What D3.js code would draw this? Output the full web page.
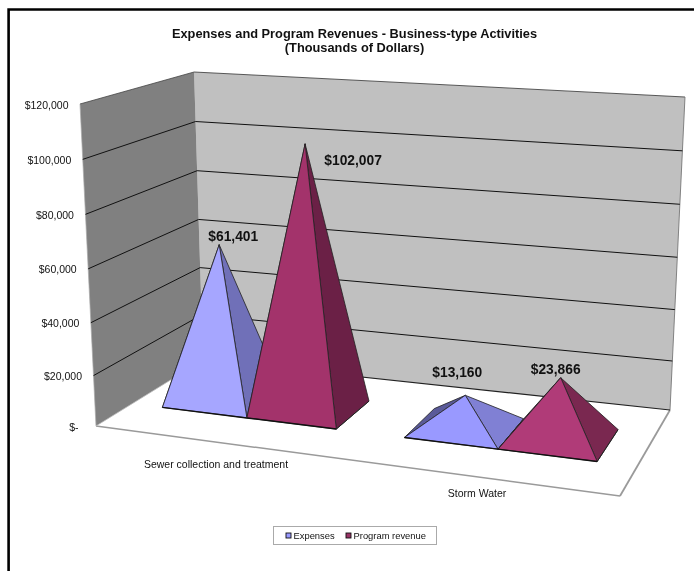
<!DOCTYPE html>
<html><head><meta charset="utf-8">
<script src="https://cdn.jsdelivr.net/npm/d3@7"></script>
<style>
html,body{margin:0;padding:0;background:#fff}
svg{display:block;filter:blur(0.35px)}
text{font-family:"Liberation Sans",Arial,sans-serif;fill:#111}
</style></head><body>
<svg id="c" width="694" height="571"></svg>
<script>
const categories = ["Sewer collection and treatment", "Storm Water"];
const seriesNames = ["Expenses", "Program revenue"];
const expenses = [61401, 13160];
const programRevenue = [102007, 23866];
const tickValues = [0, 20000, 40000, 60000, 80000, 100000, 120000];
const tickLabels = ["$-", "$20,000", "$40,000", "$60,000", "$80,000", "$100,000", "$120,000"];
const dataLabels = [["$61,401", "$13,160"], ["$102,007", "$23,866"]];

// projection of the chart box: floor corners (front-left, front-right, back-right, back-left),
// the vanishing point of the verticals, and the on-screen wall height at those corners
const floorQuad = [[96,426],[620,496],[670,410],[203,360]];
const verticalVanish = [388,6300];
const cornerHeights = [322,350,313,288];

function homography(q){
  const [p0,p1,p2,p3]=q;
  const sx=p0[0]-p1[0]+p2[0]-p3[0], sy=p0[1]-p1[1]+p2[1]-p3[1];
  const dx1=p1[0]-p2[0], dx2=p3[0]-p2[0], dy1=p1[1]-p2[1], dy2=p3[1]-p2[1];
  const den=dx1*dy2-dx2*dy1;
  const g=(sx*dy2-dx2*sy)/den, h=(dx1*sy-sx*dy1)/den;
  const a=p1[0]-p0[0]+g*p1[0], b=p3[0]-p0[0]+h*p3[0];
  const d=p1[1]-p0[1]+g*p1[1], e=p3[1]-p0[1]+h*p3[1];
  return (u,v)=>{const w=1+g*u+h*v;return [(a*u+b*v+p0[0])/w,(d*u+e*v+p0[1])/w];};
}
const floorH=homography(floorQuad);

const valueScale=d3.scalePow().exponent(1.035).domain([0,120000]).range([0,1]);
const catScale=d3.scaleBand().domain(categories).range([0,1.012]).paddingInner(0.2767).paddingOuter(0.1344);
const serScale=d3.scaleBand().domain(seriesNames).range([0,catScale.bandwidth()]);
const depthScale=d3.scaleLinear().domain([0,1]).range([0.31,0.69]);
// evens out the foreshortening along the floor's width
const widthScale=d3.scaleLinear().domain([0,0.434,0.94]).range([0,0.441,0.928]);

function P(u,v,val){
  const f=floorH(u,v);
  const H=(1-v)*((1-u)*cornerHeights[0]+u*cornerHeights[1])+v*((1-u)*cornerHeights[3]+u*cornerHeights[2]);
  const up=H*valueScale(val);
  const slope=(f[0]-verticalVanish[0])/(verticalVanish[1]-f[1]);
  return [f[0]+slope*up, f[1]-up];
}
const svg=d3.select("#c");
const poly=(pts,fill,stroke,sw)=>svg.append("path")
  .attr("d","M"+pts.map(p=>p.map(n=>n.toFixed(1)).join(",")).join("L")+"Z")
  .attr("fill",fill).attr("stroke",stroke||"none").attr("stroke-width",sw||0).attr("stroke-linejoin","round");
const seg=(a,b,stroke,sw)=>svg.append("line").attr("x1",a[0]).attr("y1",a[1]).attr("x2",b[0]).attr("y2",b[1])
  .attr("stroke",stroke).attr("stroke-width",sw);

// outer frame
svg.append("path").attr("d","M694,9.5H8.6V571").attr("fill","none").attr("stroke","#000").attr("stroke-width",2.6);

// floor and walls
poly([P(0,0,0),P(1,0,0),P(1,1,0),P(0,1,0)],"#fff");
seg(P(0,0,0),P(1,0,0),"#9a9a9a",1.5);
seg(P(1,0,0),P(1,1,0),"#9a9a9a",1.8);
poly([P(0,1,0),P(1,1,0),P(1,1,120000),P(0,1,120000)],"#c0c0c0");
poly([P(0,0,0),P(0,1,0),P(0,1,120000),P(0,0,120000)],"#808080");
seg(P(0,1,120000),P(1,1,120000),"#333",0.8);
seg(P(0,0,120000),P(0,1,120000),"#444",0.8);
seg(P(1,1,0),P(1,1,120000),"#777",0.9);
seg(P(0,0,0),P(0,0,120000),"#aaa",0.7);
seg(P(0,1,0),P(1,1,0),"#222",1.2);
seg(P(0,0,0),P(0,1,0),"#bbb",0.8);

tickValues.slice(1,-1).forEach(t=>{
  seg(P(0,0,t),P(0,1,t),"#111",1);
  seg(P(0,1,t),P(1,1,t),"#111",1);
});
tickValues.forEach((t,i)=>{
  const p=P(0,0,t);
  svg.append("text").attr("x",p[0]-11.5-(t===0?6:0)).attr("y",p[1]+4.5)
    .attr("text-anchor","end").attr("font-size",10.5).text(tickLabels[i]);
});

// pyramids
const faceColors={
  "Expenses":[{front:"#a6a6ff",right:"#7070b8",left:"#5a5a99"},{front:"#9999ff",right:"#8080d4",left:"#5a5a99"}],
  "Program revenue":[{front:"#a3336b",right:"#6b2046",left:"#6b2046"},{front:"#b03b78",right:"#7a2850",left:"#7a2850"}]
};
const labelShift={ "Expenses":[[14,-8],[-8,-23]], "Program revenue":[[48,16],[-5,-9]] };
const seriesValues=[expenses,programRevenue];
const labelQueue=[];
categories.forEach((cat,c)=>{
  seriesNames.forEach((s,si)=>{
    const b0=catScale(cat)+serScale(s);
    const u0=widthScale(b0), u1=widthScale(b0+serScale.bandwidth());
    const v0=depthScale(0), v1=depthScale(1);
    const val=seriesValues[si][c], col=faceColors[s][c];
    const apex=P((u0+u1)/2,(v0+v1)/2,val);
    const FL=P(u0,v0,0),FR=P(u1,v0,0),BR=P(u1,v1,0),BL=P(u0,v1,0);
    poly([BL,FL,apex],col.left,"#222",0.8);
    poly([FR,BR,apex],col.right,"#222",0.8);
    poly([FL,FR,apex],col.front,"#222",0.8);
    seg(FL,FR,"#111",1.4);
    seg(FR,BR,"#222",1);
    labelQueue.push({apex,shift:labelShift[s][c],text:dataLabels[si][c]});
  });
});
labelQueue.forEach(l=>{
  svg.append("text").attr("x",l.apex[0]+l.shift[0]).attr("y",l.apex[1]+l.shift[1]+4.8)
    .attr("text-anchor","middle").attr("font-size",13.8).attr("font-weight","bold").text(l.text);
});

// category labels
const catAnchor=[[216,467.5],[477,496.5]];
categories.forEach((c,i)=>{
  svg.append("text").attr("x",catAnchor[i][0]).attr("y",catAnchor[i][1]).attr("text-anchor","middle")
    .attr("font-size",10.5).text(c);
});

// title
[["Expenses and Program Revenues - Business-type Activities",38],["(Thousands of Dollars)",52]].forEach(d=>{
  svg.append("text").attr("x",354.5).attr("y",d[1]).attr("text-anchor","middle")
    .attr("font-size",12.8).attr("font-weight","bold").text(d[0]);
});

// legend
svg.append("rect").attr("x",273.5).attr("y",526.5).attr("width",163).attr("height",18)
  .attr("fill","#fff").attr("stroke","#aaa").attr("stroke-width",1);
const legendColor=d3.scaleOrdinal().domain(seriesNames).range(["#9999ff","#993366"]);
const legendX=d3.scaleOrdinal().domain(seriesNames).range([286,346]);
seriesNames.forEach(s=>{
  svg.append("rect").attr("x",legendX(s)).attr("y",533).attr("width",5).attr("height",5)
    .attr("fill",legendColor(s)).attr("stroke","#111").attr("stroke-width",0.9);
  svg.append("text").attr("x",legendX(s)+7.5).attr("y",539).attr("font-size",9.4).text(s);
});
</script></body></html>
